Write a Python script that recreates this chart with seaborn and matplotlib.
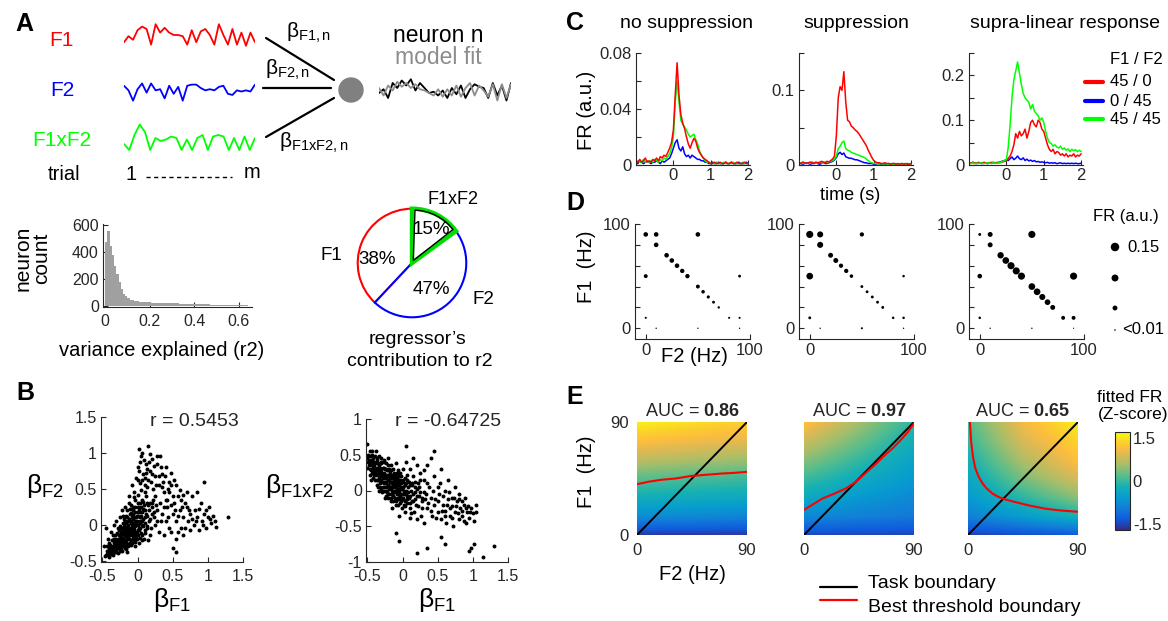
import numpy as np
import pandas as pd
import matplotlib
matplotlib.use("Agg")
import matplotlib.pyplot as plt
import seaborn as sns
from matplotlib.colors import LinearSegmentedColormap
from matplotlib.patches import Circle, Wedge

# ============================ DATA ============================
# --- Panel A: schematic traces (one value per trial) ---
trace_f1 = [0.2, 0.45, 0.3, 0.7, 0.85, 0.75, 0.1, 0.95, 0.6, 0.8, 0.6, 0.5, 0.5, 0.45, 0.1,
            0.7, 0.2, 0.65, 0.75, 0.5, 0.1, 0.95, 0.5, 0.1, 0.75, 0.1, 0.6, 0.05, 0.6, 0.2]
trace_f2 = [0.75, 0.55, 0.1, 0.6, 0.85, 0.45, 0.85, 0.55, 0.6, 0.2, 0.75, 0.4, 0.7, 0.1, 0.75,
            0.8, 0.8, 0.65, 0.55, 0.6, 0.55, 0.7, 0.75, 0.4, 0.35, 0.55, 0.5, 0.55, 0.5, 0.8]
trace_f1xf2 = [0.3, 0.1, 0.6, 0.95, 0.7, 0.1, 0.5, 0.4, 0.45, 0.55, 0.5, 0.1, 0.45, 0.1, 0.5,
               0.6, 0.1, 0.55, 0.6, 0.55, 0.1, 0.5, 0.1, 0.55, 0.1, 0.5]
trace_neuron = [0.4, 0.55, 0.2, 0.8, 0.6, 0.9, 0.7, 0.95, 0.5, 0.8, 0.6, 0.4, 0.45, 0.3, 0.5,
                0.2, 0.6, 0.35, 0.7, 0.2, 0.55, 0.75, 0.65, 0.6, 0.2, 0.8, 0.3, 0.7, 0.1, 0.8]
trace_fit = [0.6, 0.3, 0.7, 0.5, 0.85, 0.65, 0.8, 0.6, 0.75, 0.55, 0.5, 0.4, 0.3, 0.55, 0.25,
             0.55, 0.3, 0.7, 0.25, 0.6, 0.8, 0.3, 0.7, 0.5, 0.25, 0.75, 0.1, 0.75, 0.2, 0.75]

# --- Panel A: histogram of variance explained (bins of 0.01 from 0) ---
r2_bin_width = 0.01
r2_counts = [480, 560, 450, 380, 300, 240, 180, 130, 95, 75, 60, 50, 44, 40, 36, 34,
             32, 31, 30, 29, 28,
             27, 27, 26, 25, 25, 24, 23, 23, 22, 22,
             21, 21, 20, 20, 19, 19, 18, 18, 17, 17,
             16, 16, 15, 15, 14, 14, 13, 13, 12, 12,
             12, 11, 11, 10, 10, 10, 9, 9, 8, 8,
             8, 7, 7, 6, 6]

# --- Panel A: regressor contribution pie ---
pie_names = ["F1xF2", "F2", "F1"]
pie_share = [15, 47, 38]

# --- Panel B: regression coefficients (beta_F1, beta_F2) ---
beta_f1_f2 = [
    (-0.45, -0.42), (-0.42, -0.38), (-0.40, -0.45), (-0.38, -0.30), (-0.36, -0.40), (-0.35, -0.35),
    (-0.33, -0.25), (-0.32, -0.38), (-0.30, -0.30), (-0.30, -0.20), (-0.28, -0.33), (-0.27, -0.15),
    (-0.26, -0.26), (-0.25, -0.36), (-0.24, -0.10), (-0.23, -0.22), (-0.22, -0.30), (-0.21, -0.05),
    (-0.20, -0.18), (-0.20, -0.26), (-0.19, -0.12), (-0.18, 0.05), (-0.18, -0.32), (-0.17, -0.22),
    (-0.16, -0.08), (-0.15, 0.10), (-0.15, -0.15), (-0.14, -0.27), (-0.13, 0.00), (-0.12, -0.10),
    (-0.12, -0.20), (-0.11, 0.15), (-0.10, -0.05), (-0.10, -0.28), (-0.09, 0.05), (-0.08, -0.15),
    (-0.07, 0.20), (-0.07, -0.22), (-0.06, -0.02), (-0.05, 0.10), (-0.05, -0.12), (-0.04, -0.30),
    (-0.03, 0.25), (-0.02, 0.02), (-0.02, -0.18), (-0.01, 0.12), (0.00, -0.08), (0.01, 0.30),
    (0.02, -0.25), (0.03, 0.05), (0.04, 0.18), (0.05, -0.12), (0.06, 0.35), (0.07, 0.00),
    (0.08, 0.22), (0.09, -0.20), (0.10, 0.10), (0.12, 0.40), (0.13, -0.05), (0.15, 0.28),
    (0.16, 0.05), (0.18, -0.15), (0.20, 0.15), (0.22, 0.35), (0.25, 0.00), (0.27, 0.20),
    (0.30, -0.10), (-0.25, 0.10), (-0.30, 0.05), (-0.22, 0.20), (-0.35, -0.15), (-0.40, -0.25),
    (-0.28, -0.05), (-0.18, 0.25), (-0.12, 0.30), (-0.33, 0.00), (0.00, 0.42), (-0.05, 0.38),
    (0.05, 0.48), (-0.15, -0.38),
    (-0.44, -0.36), (-0.41, -0.32), (-0.39, -0.41), (-0.37, -0.35), (-0.34, -0.30), (-0.31, -0.35),
    (-0.29, -0.25), (-0.29, -0.12), (-0.26, -0.20), (-0.24, -0.28), (-0.23, -0.15), (-0.21, -0.24),
    (-0.19, -0.02), (-0.18, -0.10), (-0.17, -0.28), (-0.16, 0.02), (-0.14, -0.18), (-0.13, -0.06),
    (-0.11, -0.25), (-0.11, 0.05), (-0.09, -0.12), (-0.08, 0.10), (-0.06, -0.08), (-0.06, 0.15),
    (-0.04, -0.20), (-0.03, 0.05), (-0.01, -0.12), (0.00, 0.18), (0.02, -0.04), (0.03, 0.10),
    (0.05, 0.25), (0.06, -0.15), (0.08, 0.08), (0.10, -0.08), (0.11, 0.20), (0.14, 0.12),
    (0.17, 0.30), (0.19, -0.05), (0.21, 0.25), (0.24, 0.10), (-0.20, 0.12), (-0.15, 0.20),
    (-0.25, -0.02), (-0.35, -0.22), (-0.42, -0.20), (-0.38, -0.10), (-0.10, 0.28), (-0.03, 0.35),
    (0.08, 0.32), (0.15, -0.22),
    (-0.46, -0.44), (-0.43, -0.41), (-0.43, -0.30), (-0.41, -0.43), (-0.40, -0.35), (-0.39, -0.28),
    (-0.38, -0.38), (-0.37, -0.22), (-0.36, -0.31), (-0.35, -0.42), (-0.34, -0.36), (-0.34, -0.20),
    (-0.33, -0.31), (-0.32, -0.24), (-0.32, -0.15), (-0.31, -0.27), (-0.30, -0.38), (-0.29, -0.31),
    (-0.28, -0.22), (-0.28, -0.40), (-0.27, -0.28), (-0.27, -0.08), (-0.26, -0.33), (-0.26, -0.14),
    (-0.25, -0.25), (-0.25, -0.18), (-0.24, -0.34), (-0.24, -0.04), (-0.23, -0.27), (-0.23, -0.10),
    (-0.22, -0.20), (-0.22, -0.36), (-0.21, -0.13), (-0.21, 0.03), (-0.20, -0.30), (-0.20, -0.09),
    (-0.19, -0.21), (-0.19, 0.08), (-0.18, -0.16), (-0.18, -0.03), (-0.17, -0.34), (-0.17, -0.12),
    (-0.16, -0.24), (-0.16, 0.12), (-0.15, -0.05), (-0.15, -0.20), (-0.14, -0.12), (-0.14, 0.05),
    (-0.13, -0.30), (-0.13, -0.18), (-0.12, 0.08), (-0.12, -0.04), (-0.11, -0.15), (-0.11, 0.22),
    (-0.10, -0.22), (-0.10, 0.02), (-0.09, -0.08), (-0.09, 0.16), (-0.08, -0.25), (-0.08, 0.00),
    (-0.07, -0.12), (-0.07, 0.08), (-0.06, -0.18), (-0.06, 0.25), (-0.05, -0.06), (-0.05, 0.03),
    (-0.04, -0.15), (-0.04, 0.18), (-0.03, -0.24), (-0.03, -0.02), (-0.02, 0.10), (-0.02, -0.10),
    (-0.01, 0.05), (-0.01, -0.20), (0.00, 0.00), (0.00, 0.25), (0.01, -0.15), (0.01, 0.12),
    (0.02, -0.08), (0.02, 0.20), (0.03, -0.18), (0.03, 0.02), (0.04, 0.30), (0.04, -0.05),
    (0.05, 0.12), (0.06, -0.22), (0.06, 0.05), (0.07, 0.18), (0.08, -0.02), (0.09, 0.28),
    (0.10, 0.02), (0.11, -0.12), (0.12, 0.15), (0.13, 0.30), (0.14, -0.02), (0.16, 0.20),
    (0.18, 0.08), (0.20, 0.30), (0.23, 0.18), (0.26, 0.28),
    (-0.08, 0.55), (-0.02, 0.65), (0.00, 0.80), (0.02, 1.05), (0.05, 0.95), (0.08, 0.70),
    (0.10, 0.55), (0.12, 0.85), (0.15, 1.10), (0.15, 0.62), (0.18, 0.75), (0.20, 0.92),
    (0.22, 0.50), (0.25, 0.68), (0.28, 0.85), (0.30, 0.55), (0.32, 0.95), (0.35, 0.70),
    (0.38, 0.45), (0.40, 0.80), (0.45, 0.60), (0.48, 0.72), (0.50, 0.40), (0.55, 0.55),
    (0.60, 0.48), (0.03, 0.58), (-0.05, 0.45), (0.10, 0.45), (0.25, 0.40), (0.42, 0.35),
    (-0.12, 0.40), (0.06, 1.00), (0.18, 0.98), (0.12, 0.72), (0.35, 0.52),
    (0.00, 0.62), (0.02, 0.75), (0.04, 0.88), (0.07, 0.62), (0.09, 0.90), (0.11, 0.65),
    (0.13, 0.52), (0.14, 0.78), (0.16, 0.88), (0.19, 0.60), (0.21, 0.70), (0.23, 0.82),
    (0.26, 0.55), (0.27, 0.95), (0.30, 0.68), (0.33, 0.80), (0.36, 0.60), (0.39, 0.68),
    (0.43, 0.50), (0.47, 0.55), (0.52, 0.62), (0.58, 0.40), (0.64, 0.42), (0.70, 0.45),
    (0.35, 0.15), (0.40, 0.05), (0.42, 0.25), (0.45, -0.05), (0.50, 0.15), (0.52, 0.30),
    (0.55, 0.05), (0.58, -0.10), (0.60, 0.20), (0.62, 0.35), (0.65, 0.10), (0.68, -0.05),
    (0.70, 0.25), (0.72, 0.05), (0.75, 0.15), (0.78, 0.40), (0.80, 0.00), (0.82, 0.20),
    (0.85, 0.10), (0.88, -0.08), (0.90, 0.30), (0.92, 0.05), (0.95, 0.15), (0.98, -0.05),
    (1.00, 0.10), (1.02, 0.25), (1.05, 0.02), (1.08, 0.12), (1.12, -0.03), (0.45, 0.45),
    (0.55, -0.20), (0.65, -0.15), (0.85, 0.45), (0.95, 0.60), (0.38, -0.15),
    (0.32, 0.30), (0.37, 0.25), (0.40, 0.35), (0.44, 0.10), (0.47, 0.28), (0.53, 0.20),
    (0.57, 0.12), (0.63, 0.25), (0.67, 0.30), (0.73, 0.20), (0.77, 0.08), (0.83, 0.05),
    (0.87, 0.22), (0.93, 0.00), (0.97, 0.20), (1.03, 0.08), (1.10, 0.05), (0.48, -0.10),
    (0.62, -0.05), (0.75, -0.08), (0.33, 0.05), (0.28, 0.05),
    (1.28, 0.10), (0.55, -0.38), (0.50, -0.32), (-0.45, -0.05), (-0.48, -0.30)]

# --- Panel B: (beta_F1, beta_F1xF2) ---
beta_f1_f1xf2 = [
    (-0.50, 0.45), (-0.48, 0.35), (-0.46, 0.40), (-0.45, 0.28), (-0.43, 0.50), (-0.42, 0.32),
    (-0.40, 0.22), (-0.40, 0.40), (-0.38, 0.30), (-0.37, 0.15), (-0.36, 0.45), (-0.35, 0.25),
    (-0.33, 0.35), (-0.32, 0.10), (-0.31, 0.20), (-0.30, 0.30), (-0.28, 0.05), (-0.28, 0.18),
    (-0.27, 0.40), (-0.26, 0.25), (-0.25, 0.12), (-0.24, 0.00), (-0.23, 0.30), (-0.22, 0.20),
    (-0.21, 0.08), (-0.20, -0.05), (-0.20, 0.35), (-0.19, 0.15), (-0.18, 0.25), (-0.17, 0.02),
    (-0.16, -0.10), (-0.15, 0.18), (-0.14, 0.08), (-0.13, 0.30), (-0.12, -0.02), (-0.11, 0.12),
    (-0.10, -0.15), (-0.10, 0.22), (-0.09, 0.05), (-0.08, -0.05), (-0.07, 0.15), (-0.06, -0.20),
    (-0.05, 0.08), (-0.04, 0.25), (-0.03, -0.08), (-0.02, 0.02), (-0.01, -0.25), (0.00, 0.12),
    (0.01, -0.12), (0.02, 0.00), (0.03, -0.30), (0.04, 0.18), (0.05, -0.05), (0.06, -0.18),
    (0.08, 0.05), (0.09, -0.10), (0.10, -0.25), (0.12, 0.00), (0.13, -0.15), (0.15, -0.05),
    (0.16, -0.30), (0.18, -0.12), (0.20, 0.02), (0.22, -0.22), (0.24, -0.08), (0.26, -0.35),
    (0.28, -0.15), (0.30, -0.02), (-0.35, 0.05), (-0.25, -0.10), (-0.15, -0.25), (-0.05, -0.35),
    (-0.45, 0.15), (-0.30, 0.45), (-0.20, 0.45), (-0.10, 0.38), (0.00, 0.30), (-0.38, 0.55),
    (-0.47, 0.55),
    (-0.49, 0.40), (-0.47, 0.30), (-0.44, 0.42), (-0.41, 0.36), (-0.39, 0.26), (-0.37, 0.38),
    (-0.34, 0.18), (-0.33, 0.28), (-0.31, 0.40), (-0.29, 0.12), (-0.27, 0.22), (-0.26, 0.32),
    (-0.24, 0.10), (-0.23, 0.18), (-0.21, 0.28), (-0.19, 0.02), (-0.18, 0.12), (-0.16, 0.22),
    (-0.15, 0.00), (-0.14, -0.08), (-0.12, 0.15), (-0.11, 0.05), (-0.09, -0.02), (-0.08, 0.18),
    (-0.07, -0.10), (-0.05, 0.02), (-0.04, -0.12), (-0.02, 0.10), (-0.01, -0.05), (0.01, 0.05),
    (0.03, -0.15), (0.05, 0.10), (0.07, -0.08), (0.09, 0.12), (0.11, -0.18), (0.14, 0.08),
    (0.17, -0.02), (0.19, -0.20), (0.23, 0.05), (0.27, -0.10), (-0.36, 0.32), (-0.30, 0.02),
    (-0.22, -0.02), (-0.17, 0.35), (-0.13, -0.15), (-0.06, 0.28), (0.02, -0.20), (0.07, 0.22),
    (0.12, -0.32), (0.18, 0.12),
    (-0.50, 0.32), (-0.49, 0.50), (-0.48, 0.42), (-0.47, 0.22), (-0.46, 0.48), (-0.45, 0.35),
    (-0.44, 0.25), (-0.44, 0.55), (-0.43, 0.38), (-0.42, 0.18), (-0.42, 0.45), (-0.41, 0.28),
    (-0.40, 0.33), (-0.39, 0.48), (-0.39, 0.15), (-0.38, 0.22), (-0.37, 0.42), (-0.37, 0.08),
    (-0.36, 0.28), (-0.35, 0.38), (-0.35, 0.15), (-0.34, 0.48), (-0.34, 0.00), (-0.33, 0.22),
    (-0.32, 0.32), (-0.32, 0.05), (-0.31, 0.26), (-0.30, 0.15), (-0.30, 0.38), (-0.29, -0.02),
    (-0.29, 0.25), (-0.28, 0.32), (-0.27, 0.10), (-0.27, 0.00), (-0.26, 0.18), (-0.26, 0.42),
    (-0.25, 0.05), (-0.25, 0.30), (-0.24, 0.22), (-0.24, -0.08), (-0.23, 0.12), (-0.23, 0.38),
    (-0.22, 0.05), (-0.22, 0.28), (-0.21, 0.15), (-0.21, -0.10), (-0.20, 0.22), (-0.20, 0.08),
    (-0.19, 0.30), (-0.19, -0.05), (-0.18, 0.05), (-0.18, 0.18), (-0.17, 0.12), (-0.17, -0.15),
    (-0.16, 0.28), (-0.16, 0.05), (-0.15, 0.10), (-0.15, -0.05), (-0.14, 0.20), (-0.14, 0.00),
    (-0.13, 0.12), (-0.13, -0.08), (-0.12, 0.25), (-0.12, 0.05), (-0.11, -0.10), (-0.11, 0.18),
    (-0.10, 0.08), (-0.10, 0.00), (-0.09, 0.15), (-0.09, -0.20), (-0.08, 0.02), (-0.08, 0.25),
    (-0.07, -0.05), (-0.07, 0.08), (-0.06, 0.12), (-0.06, -0.12), (-0.05, 0.20), (-0.05, -0.02),
    (-0.04, 0.05), (-0.04, -0.18), (-0.03, 0.15), (-0.03, -0.05), (-0.02, -0.15), (-0.02, 0.20),
    (-0.01, 0.02), (0.00, -0.10), (0.00, 0.05), (0.01, 0.15), (0.02, -0.05), (0.03, 0.08),
    (0.04, -0.22), (0.05, 0.00), (0.06, 0.15), (0.07, -0.12), (0.08, -0.02), (0.10, 0.08),
    (0.11, -0.08), (0.13, 0.10), (0.15, -0.15), (0.17, 0.05), (0.20, -0.08), (0.22, 0.10),
    (0.25, -0.02), (0.28, -0.25), (0.32, -0.12),
    (0.05, 0.40), (0.10, 0.30), (0.15, 0.20), (0.20, 0.35), (0.25, 0.15), (0.30, 0.28),
    (0.35, 0.10), (0.40, 0.45), (0.45, 0.20), (0.50, 0.05), (0.55, 0.30), (0.60, 0.00),
    (0.65, 0.15), (0.70, -0.10), (0.75, 0.05), (0.80, -0.05), (0.85, -0.15), (0.90, -0.25),
    (0.35, -0.25), (0.40, -0.10), (0.42, -0.35), (0.45, -0.20), (0.50, -0.30), (0.52, -0.05),
    (0.55, -0.40), (0.58, -0.20), (0.60, -0.28), (0.62, -0.45), (0.65, -0.12), (0.68, -0.35),
    (0.70, -0.22), (0.72, -0.50), (0.75, -0.30), (0.78, -0.15), (0.80, -0.40), (0.82, -0.25),
    (0.85, -0.35), (0.88, -0.20), (0.90, -0.45), (0.92, -0.30), (0.95, -0.38), (0.98, -0.25),
    (1.00, -0.32), (1.02, -0.42), (1.05, -0.30), (0.30, -0.45), (0.20, -0.40), (0.10, -0.38),
    (0.30, 0.15), (0.33, -0.05), (0.36, -0.18), (0.38, 0.05), (0.40, -0.28), (0.43, 0.00),
    (0.46, -0.12), (0.48, -0.38), (0.50, -0.15), (0.53, 0.10), (0.56, -0.28), (0.58, -0.08),
    (0.61, -0.35), (0.63, -0.20), (0.66, -0.02), (0.68, -0.25), (0.71, -0.38), (0.73, -0.10),
    (0.76, -0.22), (0.79, -0.32), (0.81, -0.12), (0.84, -0.28), (0.87, -0.42), (0.89, -0.10),
    (0.93, -0.22), (0.96, -0.30), (1.04, -0.20), (0.25, 0.25), (0.35, 0.35), (0.15, 0.45),
    (1.30, -0.78), (1.15, -0.93), (0.98, -0.80), (1.02, -0.75), (0.95, -0.85), (0.20, -0.87),
    (0.35, -0.80), (-0.10, -0.60), (-0.05, -0.70), (0.60, -0.75), (0.55, -0.65), (0.05, 0.62),
    (-0.50, 0.65), (0.45, 0.55)]
r_values = ["0.5453", "-0.64725"]

# --- Panel C: PSTHs, time -1 .. 2 s in 0.05 s steps ---
psth_time = np.linspace(-1.0, 2.0, 61)
c_titles = ["no suppression", "suppression", "supra-linear response"]
psth_nosup = {
    "45 / 0": [0.003, 0.002, 0.004, 0.002, 0.003, 0.005, 0.002, 0.003, 0.002, 0.004,
               0.003, 0.005, 0.003, 0.006, 0.005, 0.007, 0.006, 0.009, 0.012, 0.016,
               0.025, 0.050, 0.073, 0.050, 0.036, 0.030, 0.026, 0.020, 0.015, 0.012,
               0.016, 0.019, 0.017, 0.012, 0.009, 0.007, 0.005, 0.004, 0.003, 0.002, 0.001,
               0.001, 0.002, 0.001, 0.001, 0.002, 0.001, 0.001, 0.002, 0.001, 0.001,
               0.002, 0.001, 0.001, 0.002, 0.001, 0.001, 0.001, 0.002, 0.001, 0.001],
    "0 / 45": [0.002, 0.001, 0.003, 0.002, 0.001, 0.002, 0.003, 0.002, 0.001, 0.002,
               0.002, 0.003, 0.002, 0.001, 0.003, 0.002, 0.003, 0.004, 0.005, 0.008,
               0.012, 0.016, 0.018, 0.012, 0.010, 0.013, 0.008, 0.006, 0.007, 0.005,
               0.007, 0.006, 0.005, 0.004, 0.004, 0.003, 0.003, 0.002, 0.002, 0.001, 0.001,
               0.002, 0.001, 0.001, 0.002, 0.001, 0.001, 0.001, 0.002, 0.001, 0.001,
               0.002, 0.001, 0.001, 0.001, 0.002, 0.001, 0.001, 0.001, 0.002, 0.001],
    "45 / 45": [0.002, 0.003, 0.002, 0.002, 0.004, 0.002, 0.003, 0.002, 0.003, 0.002,
                0.004, 0.003, 0.002, 0.004, 0.003, 0.005, 0.004, 0.006, 0.008, 0.012,
                0.020, 0.045, 0.060, 0.045, 0.032, 0.029, 0.027, 0.025, 0.022, 0.020,
                0.021, 0.022, 0.018, 0.015, 0.010, 0.007, 0.005, 0.003, 0.002, 0.002, 0.001,
                0.001, 0.001, 0.002, 0.001, 0.001, 0.001, 0.002, 0.001, 0.001, 0.001,
                0.001, 0.002, 0.001, 0.001, 0.001, 0.001, 0.002, 0.001, 0.001, 0.001],
}
psth_sup = {
    "45 / 0": [0.003, 0.002, 0.004, 0.003, 0.002, 0.003, 0.004, 0.003, 0.002, 0.004,
               0.003, 0.003, 0.005, 0.004, 0.003, 0.005, 0.004, 0.006, 0.008, 0.012,
               0.040, 0.090, 0.105, 0.100, 0.125, 0.085, 0.060, 0.058, 0.052, 0.050,
               0.047, 0.045, 0.042, 0.038, 0.034, 0.030, 0.026, 0.020, 0.015, 0.010, 0.006,
               0.004, 0.003, 0.003, 0.002, 0.002, 0.003, 0.002, 0.002, 0.001, 0.002,
               0.002, 0.001, 0.002, 0.001, 0.002, 0.001, 0.002, 0.001, 0.001, 0.002],
    "0 / 45": [0.002, 0.002, 0.001, 0.002, 0.003, 0.002, 0.001, 0.002, 0.002, 0.003,
               0.002, 0.001, 0.002, 0.003, 0.002, 0.002, 0.003, 0.004, 0.005, 0.007,
               0.010, 0.015, 0.017, 0.014, 0.016, 0.011, 0.010, 0.009, 0.009, 0.008,
               0.007, 0.007, 0.006, 0.005, 0.004, 0.003, 0.003, 0.002, 0.002, 0.002, 0.001,
               0.001, 0.002, 0.001, 0.001, 0.002, 0.001, 0.001, 0.002, 0.001, 0.001,
               0.002, 0.001, 0.001, 0.001, 0.002, 0.001, 0.001, 0.002, 0.001, 0.001],
    "45 / 45": [0.002, 0.003, 0.002, 0.003, 0.002, 0.003, 0.002, 0.004, 0.003, 0.002,
                0.003, 0.004, 0.003, 0.002, 0.004, 0.003, 0.004, 0.005, 0.006, 0.008,
                0.012, 0.022, 0.025, 0.030, 0.032, 0.022, 0.020, 0.019, 0.017, 0.016,
                0.015, 0.014, 0.013, 0.012, 0.011, 0.010, 0.008, 0.006, 0.004, 0.003, 0.002,
                0.002, 0.002, 0.001, 0.002, 0.001, 0.002, 0.001, 0.001, 0.002, 0.001,
                0.001, 0.002, 0.001, 0.001, 0.001, 0.002, 0.001, 0.001, 0.001, 0.001],
}
psth_supra = {
    "45 / 0": [0.005, 0.004, 0.006, 0.005, 0.004, 0.006, 0.005, 0.004, 0.006, 0.005,
               0.004, 0.005, 0.006, 0.005, 0.004, 0.006, 0.005, 0.006, 0.007, 0.008,
               0.010, 0.015, 0.020, 0.030, 0.045, 0.070, 0.060, 0.075, 0.065, 0.070,
               0.080, 0.060, 0.075, 0.095, 0.100, 0.090, 0.085, 0.100, 0.095, 0.080, 0.075,
               0.060, 0.045, 0.035, 0.030, 0.035, 0.025, 0.030, 0.028, 0.022, 0.025,
               0.020, 0.025, 0.018, 0.022, 0.020, 0.025, 0.018, 0.022, 0.020, 0.025],
    "0 / 45": [0.005, 0.004, 0.006, 0.004, 0.003, 0.005, 0.004, 0.003, 0.005, 0.004,
               0.003, 0.005, 0.004, 0.006, 0.005, 0.004, 0.006, 0.007, 0.009, 0.010,
               0.012, 0.010, 0.014, 0.018, 0.012, 0.015, 0.020, 0.014, 0.012, 0.016,
               0.010, 0.013, 0.009, 0.011, 0.008, 0.010, 0.007, 0.008, 0.006, 0.007, 0.006,
               0.005, 0.006, 0.004, 0.005, 0.004, 0.005, 0.003, 0.004, 0.005, 0.003,
               0.004, 0.003, 0.004, 0.003, 0.004, 0.003, 0.004, 0.003, 0.003, 0.004],
    "45 / 45": [0.004, 0.003, 0.005, 0.003, 0.004, 0.003, 0.005, 0.004, 0.003, 0.004,
                0.005, 0.004, 0.003, 0.005, 0.004, 0.004, 0.005, 0.006, 0.008, 0.010,
                0.012, 0.040, 0.090, 0.150, 0.190, 0.210, 0.230, 0.205, 0.180, 0.160,
                0.150, 0.145, 0.140, 0.125, 0.135, 0.120, 0.115, 0.110, 0.100, 0.105, 0.095,
                0.075, 0.060, 0.050, 0.048, 0.042, 0.045, 0.040, 0.038, 0.042, 0.035,
                0.038, 0.033, 0.036, 0.030, 0.035, 0.032, 0.034, 0.030, 0.033, 0.030],
}
psth_colors = {"45 / 0": "#ff0000", "0 / 45": "#0000ff", "45 / 45": "#00ff00"}
c_ylims = [0.08, 0.15, 0.25]

# --- Panel D: stimulus set (F2, F1) and mean firing rate of each class ---
stim_f2 = [0, 10, 10, 20, 25, 30, 35, 40, 0, 50, 50, 55, 60, 65, 70, 0, 80, 90, 90, 10, 50, 90]
stim_f1 = [90, 90, 80, 70, 65, 60, 55, 50, 50, 90, 40, 35, 30, 25, 20, 10, 10, 10, 50, 0, 0, 0]
fr_nosup = [0.044, 0.044, 0.044, 0.044, 0.044, 0.044, 0.040, 0.040, 0.032, 0.044, 0.032,
            0.026, 0.021, 0.017, 0.012, 0.009, 0.009, 0.009, 0.017, 0.004, 0.004, 0.004]
fr_sup = [0.105, 0.076, 0.076, 0.051, 0.051, 0.0375, 0.0375, 0.026, 0.093, 0.0375, 0.017,
          0.017, 0.017, 0.017, 0.017, 0.017, 0.013, 0.013, 0.013, 0.004, 0.009, 0.004]
fr_supra = [0.017, 0.050, 0.050, 0.084, 0.093, 0.105, 0.105, 0.105, 0.044, 0.105, 0.093,
            0.093, 0.076, 0.067, 0.050, 0.013, 0.032, 0.032, 0.105, 0.004, 0.004, 0.003]
fr_legend = [0.15, 0.10, 0.05, 0.005]
fr_legend_labels = ["0.15", "", "", "<0.01"]

# --- Panel E: fitted FR (z-score) on a coarse F1 x F2 grid, best-threshold boundaries ---
grid_f2 = [0, 45, 90]
grid_f1 = [0, 15, 30, 45, 60, 75, 90]
fit_nosup = [[-1.60, -1.60, -1.60], [-0.75, -0.80, -0.85], [-0.25, -0.30, -0.35],
             [0.20, 0.12, 0.05], [0.75, 0.65, 0.55], [1.20, 1.10, 1.00], [1.65, 1.50, 1.35]]
fit_sup = [[-1.50, -1.50, -1.50], [-0.80, -0.90, -1.00], [-0.35, -0.60, -0.80],
           [0.05, -0.30, -0.60], [0.45, 0.00, -0.45], [0.85, 0.30, -0.25], [1.25, 0.60, -0.05]]
fit_supra = [[-1.55, -1.45, -1.35], [-0.90, -0.55, -0.20], [-0.60, -0.05, 0.45],
             [-0.40, 0.35, 0.90], [-0.20, 0.65, 1.20], [0.00, 0.90, 1.40], [0.15, 1.10, 1.60]]
thr_nosup_f2 = [0, 10, 20, 31.6, 44, 57, 70, 80, 90]
thr_nosup_f1 = [40.5, 42.5, 44, 45, 47, 48, 49, 49.5, 50.3]
thr_sup_f2 = [0, 5, 15, 25, 34, 42, 50, 58, 66, 73, 79, 85, 90]
thr_sup_f1 = [20, 23, 29, 33, 37, 42, 49, 56, 63.5, 69.5, 75.5, 82, 89]
thr_supra_f2 = [1.6, 2.5, 4.1, 6, 8.9, 12, 15.3, 20, 24.8, 30, 37.5, 50, 63, 76, 90]
thr_supra_f1 = [90, 75, 62, 53, 46, 41, 37, 33, 30.4, 28.5, 26.5, 23.5, 21, 19.5, 18.5]
task_boundary = [0, 90]
auc_values = ["0.86", "0.97", "0.65"]

# parula-like colormap anchor colours
parula_anchors = [(0.2081, 0.1663, 0.5292), (0.0591, 0.3598, 0.8683), (0.0723, 0.4887, 0.8467),
                  (0.0265, 0.6137, 0.8135), (0.0843, 0.6928, 0.7062), (0.3482, 0.7424, 0.5473),
                  (0.6473, 0.7456, 0.4188), (0.8824, 0.7274, 0.3217), (0.9938, 0.7455, 0.2403),
                  (0.9880, 0.8066, 0.1794), (0.9763, 0.9831, 0.0538)]
parula_pos = [0.0, 7/63, 14/63, 21/63, 28/63, 35/63, 42/63, 49/63, 53/63, 56/63, 1.0]

# ============================ FIGURE ============================
sns.set_theme(style="ticks")
plt.rcParams['font.family'] = ['Liberation Sans', 'DejaVu Sans']
plt.rcParams['mathtext.fontset'] = 'custom'
plt.rcParams['mathtext.rm'] = 'Liberation Sans'
plt.rcParams['mathtext.it'] = 'Liberation Sans:italic'
plt.rcParams['mathtext.bf'] = 'Liberation Sans:bold'
plt.rcParams['mathtext.sf'] = 'Liberation Sans'

W, H = 1168, 621
fig = plt.figure(figsize=(W / 100, H / 100), dpi=100)
TXT = '#262626'


def add_ax(l, t, r, b):
    return fig.add_axes([l / W, 1 - b / H, (r - l) / W, (b - t) / H])


def style(ax, fs=11, xpad=5):
    sns.despine(ax=ax)
    ax.tick_params(direction='in', length=3.5, width=0.8, labelsize=fs, colors=TXT, pad=3)
    ax.tick_params(axis='x', pad=xpad)
    for s in ['left', 'bottom']:
        ax.spines[s].set_linewidth(0.8)
        ax.spines[s].set_color(TXT)


# ---------- Panel A traces ----------
def trace_ax(l, t, r, b, vals, color, lw=1.3):
    ax = add_ax(l, t, r, b)
    sns.lineplot(x=np.arange(len(vals)), y=vals, color=color, lw=lw, ax=ax)
    ax.set_xlim(0, len(vals) - 1)
    ax.set_ylim(0, 1)
    ax.axis('off')
    return ax

trace_ax(124, 23, 255, 47, trace_f1, '#ff0000')
trace_ax(124, 80, 255, 103, trace_f2, '#0000ff')
trace_ax(124, 123, 255, 153, trace_f1xf2, '#00ff00')
axo = add_ax(379, 78, 511, 103)
sns.lineplot(x=np.arange(len(trace_neuron)), y=trace_neuron, color='black', lw=1.3, ax=axo)
sns.lineplot(x=np.arange(len(trace_fit)), y=trace_fit, color='#8c8c8c', lw=1.3, ax=axo)
axo.set_xlim(0, len(trace_neuron) - 1)
axo.set_ylim(0, 1)
axo.axis('off')

# ---------- Panel A histogram ----------
axh = add_ax(103, 224, 252, 307)
hist_df = pd.DataFrame({"r2": np.arange(len(r2_counts)) * r2_bin_width + r2_bin_width / 2,
                        "count": r2_counts})
sns.histplot(data=hist_df, x="r2", weights="count", binwidth=r2_bin_width,
             binrange=(0, len(r2_counts) * r2_bin_width), color='#a0a0a0', edgecolor='none',
             alpha=1.0, ax=axh)
axh.set_xlim(-0.01, 0.66)
axh.set_ylim(-5, 610)
axh.set_xticks([0, 0.2, 0.4, 0.6])
axh.set_xticklabels(['0', '0.2', '0.4', '0.6'])
axh.set_yticks([0, 200, 400, 600])
axh.set_xlabel('')
axh.set_ylabel('')
style(axh, 11.5)

# ---------- Panel A pie ----------
axp = add_ax(355, 206, 469, 320)
wedges, _ = axp.pie(pie_share, colors=['white'] * 3, startangle=90, counterclock=False,
                    radius=1.0, wedgeprops=dict(linewidth=1.5))
wedges[2].set_edgecolor('#ff0000'); wedges[2].set_zorder(1)
wedges[1].set_edgecolor('#0000ff'); wedges[1].set_zorder(2)
wedges[0].set_edgecolor('#00dd00'); wedges[0].set_linewidth(3.2); wedges[0].set_zorder(3)
th1, th2 = wedges[0].theta1, wedges[0].theta2
mid = np.deg2rad((th1 + th2) / 2)
axp.add_patch(Wedge((0.05 * np.cos(mid), 0.05 * np.sin(mid)), 0.93, th1 + 2, th2 - 2,
                    facecolor='none', edgecolor='black', lw=1.0, zorder=4))
axp.set_xlim(-1.05, 1.05)
axp.set_ylim(-1.05, 1.05)
axp.set_aspect('equal')
axp.axis('off')

# ---------- Panel B scatters ----------
b1 = np.array(beta_f1_f2)
axb1 = add_ax(101, 417, 243, 562)
sns.scatterplot(x=b1[:, 0], y=b1[:, 1], color='black', s=8, linewidth=0, ax=axb1)
axb1.set_xlim(-0.52, 1.5)
axb1.set_ylim(-0.52, 1.5)
axb1.set_xticks([-0.5, 0, 0.5, 1, 1.5])
axb1.set_xticklabels(['-0.5', '0', '0.5', '1', '1.5'])
axb1.set_yticks([-0.5, 0, 0.5, 1, 1.5])
axb1.set_yticklabels(['-0.5', '0', '0.5', '1', '1.5'])
style(axb1, 11.5)

b2 = np.array(beta_f1_f1xf2)
axb2 = add_ax(366, 419, 508, 562)
sns.scatterplot(x=b2[:, 0], y=b2[:, 1], color='black', s=8, linewidth=0, ax=axb2)
axb2.set_xlim(-0.52, 1.5)
axb2.set_ylim(-1, 1)
axb2.set_xticks([-0.5, 0, 0.5, 1, 1.5])
axb2.set_xticklabels(['-0.5', '0', '0.5', '1', '1.5'])
axb2.set_yticks([-1, -0.5, 0, 0.5, 1])
axb2.set_yticklabels(['-1', '-0.5', '0', '0.5', '1'])
style(axb2, 11.5)

# ---------- Panel C PSTHs ----------
c_lefts = [636, 799, 969]
c_sets = [psth_nosup, psth_sup, psth_supra]
c_orders = [["0 / 45", "45 / 45", "45 / 0"], ["0 / 45", "45 / 45", "45 / 0"],
            ["0 / 45", "45 / 0", "45 / 45"]]
for i in range(3):
    ax = add_ax(c_lefts[i], 53, c_lefts[i] + 114, 165)
    for cond in c_orders[i]:
        sns.lineplot(x=psth_time, y=c_sets[i][cond], color=psth_colors[cond], lw=1.1, ax=ax)
    ax.set_xlim(-1.0, 2.05)
    ax.set_ylim(0, c_ylims[i])
    ax.set_xticks([0, 1, 2])
    ax.set_xticklabels(['0', '1', '2'])
    if i == 0:
        ax.set_yticks([0, 0.02, 0.04, 0.06, 0.08])
        ax.set_yticklabels(['0', '', '0.04', '', '0.08'])
    elif i == 1:
        ax.set_yticks([0, 0.05, 0.1, 0.15])
        ax.set_yticklabels(['0', '', '0.1', ''])
    else:
        ax.set_yticks([0, 0.05, 0.1, 0.15, 0.2, 0.25])
        ax.set_yticklabels(['0', '', '0.1', '', '0.2', ''])
    style(ax, 12, xpad=2)

# ---------- Panel D dot plots ----------
d_lefts = [635, 799, 969]
d_sets = [fr_nosup, fr_sup, fr_supra]
for i in range(3):
    ax = add_ax(d_lefts[i], 224, d_lefts[i] + 115, 339)
    sns.scatterplot(x=stim_f2, y=stim_f1, size=d_sets[i], sizes=(0, 37.5), size_norm=(0, 0.15),
                    color='black', linewidth=0, legend=False, ax=ax)
    ax.set_xlim(-10.3, 100)
    ax.set_ylim(-10.3, 100)
    ax.set_xticks([0, 100])
    ax.set_xticklabels(['0', '100'])
    ax.set_yticks([0, 20, 40, 60, 80, 100])
    ax.set_yticklabels(['0', '', '', '', '', '100'])
    style(ax, 12, xpad=3)

# ---------- Panel E fitted surfaces ----------
parula = LinearSegmentedColormap.from_list('parula', list(zip(parula_pos, parula_anchors)))
e_lefts = [637, 804, 968]
e_fits = [fit_nosup, fit_sup, fit_supra]
e_thr = [(thr_nosup_f2, thr_nosup_f1), (thr_sup_f2, thr_sup_f1), (thr_supra_f2, thr_supra_f1)]
dx = (grid_f2[1] - grid_f2[0]) / 2
dy = (grid_f1[1] - grid_f1[0]) / 2
im = None
for i in range(3):
    ax = add_ax(e_lefts[i], 422, e_lefts[i] + 110, 535)
    im = ax.imshow(np.array(e_fits[i]), origin='lower', cmap=parula, vmin=-1.72, vmax=1.72,
                   extent=[grid_f2[0] - dx, grid_f2[-1] + dx, grid_f1[0] - dy, grid_f1[-1] + dy],
                   interpolation='bilinear', aspect='auto')
    sns.lineplot(x=task_boundary, y=task_boundary, color='black', lw=1.4, ax=ax)
    sns.lineplot(x=e_thr[i][0], y=e_thr[i][1], color='#ff0000', lw=1.5, sort=False, ax=ax)
    ax.set_xlim(0, 90)
    ax.set_ylim(0, 90)
    ax.set_xticks([0, 90])
    ax.set_xticklabels(['0', '90'])
    ax.set_yticks([0, 90])
    ax.set_yticklabels(['0', '90'] if i == 0 else ['', ''])
    for s in ax.spines.values():
        s.set_visible(False)
    ax.tick_params(length=0, labelsize=12, colors=TXT, pad=6)

cax = add_ax(1115, 432, 1130, 530)
cb = fig.colorbar(im, cax=cax, ticks=[-1.5, 0, 1.5])
cb.ax.set_yticklabels(['-1.5', '0', '1.5'])
cb.ax.tick_params(direction='in', length=3, labelsize=12, colors=TXT, pad=2)
cb.outline.set_linewidth(0.8)

# ---------- overlay: texts & schematic decorations ----------
ov = fig.add_axes([0, 0, 1, 1])
ov.set_xlim(0, W)
ov.set_ylim(H, 0)
ov.axis('off')


def T(x, y, s, fs=14, ha='center', va='center', **kw):
    ov.text(x, y, s, fontsize=fs, ha=ha, va=va, **kw)

# panel letters
for lab, (x, y) in zip("ABCDE", [(24, 24), (25, 393), (575, 23), (575, 203), (575, 397)]):
    T(x, y, lab, fs=18, fontweight='bold', color='black')

# A schematic
T(61, 40, 'F1', fs=15, color='#ff0000')
T(62, 90, 'F2', fs=15, color='#0000ff')
T(62, 140, 'F1xF2', fs=15, color='#00ff00')
T(64, 175, 'trial', fs=14.5, color='black')
T(131, 175, '1', fs=14.5, color='black')
ov.plot([146, 232], [177, 177], color='black', lw=1.0, ls=(0, (3, 2.5)))
T(252, 173, 'm', fs=14.5, color='black')
for (x0, y0, x1, y1) in [(266, 38, 334, 80), (263, 88, 331, 88), (266, 137, 334, 98)]:
    ov.plot([x0, x1], [y0, y1], color='black', lw=1.6)
ov.add_patch(Circle((351, 90), 12, color='#808080', zorder=3))
T(286, 33, 'β$_\\mathregular{F1,n}$', fs=15, ha='left', color='black')
T(265, 70, 'β$_\\mathregular{F2,n}$', fs=15, ha='left', color='black')
T(279, 143, 'β$_\\mathregular{F1xF2,n}$', fs=15, ha='left', color='black')
T(438, 35, 'neuron n', fs=16.5, color='black')
T(438, 58, 'model fit', fs=16.5, color='#8c8c8c')

# A histogram / pie labels
T(32, 258, 'neuron\ncount', fs=15, rotation=90, linespacing=0.95, color='black')
T(162, 350, 'variance explained (r2)', fs=14.5, color='black')
T(453, 200, 'F1xF2', fs=13, color='black')
T(431, 230, '15%', fs=13.5, color='black')
T(377, 260, '38%', fs=13.5, color='black')
T(431, 290, '47%', fs=13.5, color='black')
T(331, 255, 'F1', fs=13.5, color='black')
T(483, 300, 'F2', fs=13.5, color='black')
T(418, 339, 'regressor\u2019s', fs=14, color='black')
T(420, 362, 'contribution to r2', fs=14, color='black')

# B labels
T(194, 422, 'r = ' + r_values[0], fs=14, color=TXT)
T(448, 422, 'r = ' + r_values[1], fs=14, color=TXT)
T(45, 486, 'β$_\\mathregular{F2}$', fs=19, color='black')
T(299, 486, 'β$_\\mathregular{F1xF2}$', fs=19, color='black')
T(172, 600, 'β$_\\mathregular{F1}$', fs=19, color='black')
T(437, 600, 'β$_\\mathregular{F1}$', fs=19, color='black')

# C labels
for i, xc in enumerate([687, 856, 1065]):
    T(xc, 23, c_titles[i], fs=14, color='black')
T(586, 110, 'FR (a.u.)', fs=14.5, rotation=90, color='black')
T(850, 195, 'time (s)', fs=13, color='black')
T(1136, 59, 'F1 / F2', fs=12, color='black')
for cond, y in zip(["45 / 0", "0 / 45", "45 / 45"], [82, 101, 119]):
    ov.plot([1085, 1103], [y, y], color=psth_colors[cond], lw=3)
    T(1110, y, cond, fs=12, ha='left', color='black')

# D labels
T(587, 267, 'F1  (Hz)', fs=14.5, rotation=90, color='black')
T(694, 357, 'F2 (Hz)', fs=14.5, color='black')
T(1126, 216, 'FR (a.u.)', fs=12, color='black')
leg_y = [247, 278, 308, 330]
ov.scatter([1115] * 4, leg_y, s=[250 * v for v in fr_legend], color='black', linewidths=0)
for lab, y in zip(fr_legend_labels, leg_y):
    if lab:
        T(1122 if lab.startswith('<') else 1127, y, lab, fs=12, ha='left', color='black')

# E labels
for i in range(3):
    T(e_lefts[i] + 55, 412, 'AUC = $\\mathbf{' + auc_values[i] + '}$', fs=13, color=TXT)
T(587, 472, 'F1  (Hz)', fs=14.5, rotation=90, color='black')
T(692, 574, 'F2 (Hz)', fs=14.5, color='black')
T(1130, 397, 'fitted FR', fs=12.5, color='black')
T(1133, 415, '(Z-score)', fs=12.5, color='black')
ov.plot([820, 857], [587, 587], color='black', lw=1.6)
ov.plot([820, 857], [600, 600], color='#ff0000', lw=1.6)
T(868, 584, 'Task boundary', fs=14, ha='left', color='black')
T(868, 607, 'Best threshold boundary', fs=14, ha='left', color='black')

fig.savefig('out.png', dpi=100)
